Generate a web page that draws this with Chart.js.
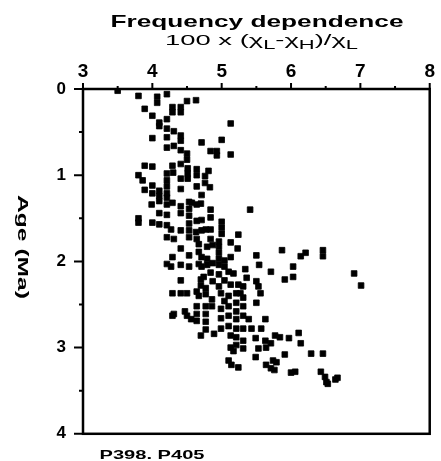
<!DOCTYPE html>
<html lang="en">

<head>
	<meta charset="UTF-8">
	<title>Frequency dependence</title>
	<script src="https://cdn.jsdelivr.net/npm/chart.js@4.4.1/dist/chart.umd.min.js"></script>
	<style>
		html, body { margin: 0; padding: 0; background: #fff; }
	</style>
</head>

<body>
	<div style="width: 441px; height: 461px;">
		<canvas id="chart" width="441" height="461"></canvas>
	</div>

	<script>
		// 100 x (chiL - chiH) / chiL
		const freqDep = [
			3.50, 3.80, 4.07, 4.07, 4.21, 4.50, 4.63, 3.89, 4.29, 4.29, 4.41, 4.41, 4.00, 4.21, 4.10, 4.10, 5.13, 4.21, 4.31,
			4.41, 4.21, 4.00, 4.41, 4.71, 5.00, 4.21, 4.31, 4.41, 4.84, 4.93, 4.93, 5.13, 4.50, 4.50, 3.89, 4.00, 4.29, 4.41, 4.51, 4.64, 4.81, 4.21, 4.30, 4.51, 4.64, 3.80,
			4.51, 4.41, 4.21, 3.86, 4.76, 4.00, 4.21, 4.64, 4.76, 4.83, 4.41, 3.89, 4.10, 4.00, 4.10, 4.21, 4.21, 4.71, 4.10, 3.99, 4.21, 4.29, 4.41, 4.53, 4.57, 4.64, 4.70, 4.84, 5.41, 4.53, 4.41, 4.10, 4.21, 4.53, 3.80, 3.80, 4.64, 4.71, 4.84,
			4.00, 4.10, 4.21, 4.27, 4.41, 4.53, 4.53, 5.00, 5.00, 5.00, 4.84, 4.63, 4.71, 4.77, 5.24, 4.53, 4.21, 4.31, 4.64, 4.67, 4.84, 4.96, 4.96, 5.13, 5.23, 4.41, 4.79, 4.87, 4.53, 4.67, 4.71, 4.29, 4.79, 4.96, 4.96, 5.13, 5.50, 5.87, 6.14, 6.21, 6.46, 6.46,
			4.21, 4.27, 4.41, 4.53, 4.67, 4.71, 4.79, 4.87, 4.96, 5.04, 5.04, 5.54, 5.10, 5.17, 5.34, 5.71, 6.03, 6.91, 7.01, 4.84, 4.96, 4.74, 4.41, 5.36, 5.91, 6.03, 4.70, 4.70, 4.87, 4.96, 5.04, 5.13, 5.24, 5.31, 5.50, 5.53, 4.29, 4.41, 4.50, 4.64, 4.67, 4.77, 4.77, 4.86, 4.99, 5.10, 5.21, 5.27, 5.31, 5.56, 5.04, 5.21, 5.50,
			4.47, 4.31, 4.50, 4.29, 4.64, 4.64, 4.64, 4.56, 4.77, 4.77, 4.77, 4.77, 4.86, 4.99, 4.99, 4.99, 5.10, 5.10, 5.10, 5.21, 5.21, 5.21, 5.21, 5.21, 5.31, 5.31, 5.31, 5.31, 5.31, 5.39, 5.43, 5.49, 5.53, 5.63, 5.57, 5.63, 5.64, 5.77, 5.84, 5.97, 6.11, 6.14, 5.71, 4.70, 4.89, 5.13,
			5.13, 5.17, 5.91, 6.29, 6.46, 5.10, 5.14, 5.24, 5.49, 5.64, 5.71, 5.74, 5.79, 5.76, 6.00, 6.06, 6.43, 6.49, 6.51, 6.53, 6.64, 6.67
		];

		// age in Ma, same order as freqDep
		const ageMa = [
			0.02, 0.08, 0.09, 0.16, 0.06, 0.14, 0.13, 0.23, 0.21, 0.27, 0.21, 0.27, 0.31, 0.35, 0.39, 0.43, 0.40, 0.46, 0.49,
			0.54, 0.56, 0.57, 0.60, 0.62, 0.59, 0.68, 0.66, 0.71, 0.72, 0.72, 0.77, 0.76, 0.75, 0.82, 0.89, 0.90, 0.89, 0.87, 0.92, 0.93, 0.95, 0.98, 0.97, 0.98, 1.00, 1.00,
			1.04, 1.04, 1.06, 1.06, 1.01, 1.12, 1.13, 1.13, 1.09, 1.14, 1.16, 1.17, 1.18, 1.21, 1.24, 1.21, 1.26, 1.23, 1.30, 1.34, 1.34, 1.32, 1.36, 1.31, 1.32, 1.34, 1.33, 1.40, 1.40, 1.39, 1.44, 1.44, 1.46, 1.47, 1.50, 1.55, 1.53, 1.52, 1.49,
			1.55, 1.57, 1.58, 1.63, 1.64, 1.56, 1.64, 1.54, 1.61, 1.68, 1.63, 1.66, 1.64, 1.63, 1.69, 1.72, 1.72, 1.74, 1.74, 1.80, 1.74, 1.77, 1.83, 1.78, 1.85, 1.85, 1.83, 1.81, 1.93, 1.89, 1.95, 1.95, 1.97, 1.90, 1.97, 1.95, 1.93, 1.87, 1.94, 1.90, 1.87, 1.94,
			2.03, 2.06, 2.04, 2.06, 2.03, 2.06, 2.04, 2.02, 2.04, 1.99, 2.06, 2.04, 2.12, 2.14, 2.09, 2.12, 2.06, 2.14, 2.28, 2.13, 2.15, 2.18, 2.22, 2.19, 2.21, 2.18, 2.21, 2.28, 2.23, 2.29, 2.22, 2.27, 2.27, 2.29, 2.23, 2.29, 2.37, 2.37, 2.37, 2.35, 2.40, 2.31, 2.38, 2.44, 2.37, 2.40, 2.37, 2.37, 2.42, 2.37, 2.46, 2.48, 2.48,
			2.58, 2.61, 2.63, 2.63, 2.52, 2.61, 2.69, 2.67, 2.52, 2.61, 2.70, 2.79, 2.52, 2.55, 2.66, 2.78, 2.52, 2.63, 2.75, 2.58, 2.67, 2.78, 2.88, 2.97, 2.52, 2.63, 2.78, 2.92, 3.01, 2.67, 2.78, 2.89, 3.01, 2.67, 2.78, 2.92, 3.00, 2.86, 2.88, 2.89, 2.83, 2.95, 2.95, 2.86, 2.84, 2.86,
			3.00, 3.04, 3.08, 3.07, 3.07, 3.15, 3.20, 3.23, 3.11, 3.20, 3.24, 3.15, 3.17, 3.26, 3.29, 3.28, 3.28, 3.34, 3.40, 3.42, 3.37, 3.35
		];

		const xTicks = [3, 4, 5, 6, 7, 8];
		const yTicks = [0, 1, 2, 3, 4];

		const labelFont = '"Liberation Sans", Arial, sans-serif';

		// draw text squeezed/stretched to a given width (the original lettering is wide)
		function wideText(ctx, text, cx, y, width) {
			const w = ctx.measureText(text).width;
			ctx.save();
			ctx.translate(cx, y);
			ctx.scale(width / w, 1);
			ctx.textAlign = 'center';
			ctx.fillText(text, 0, 0);
			ctx.restore();
		}

		// frame, tick marks, titles
		const decor = {
			id: 'decor',
			afterDraw(chart) {
				const ctx = chart.ctx;
				const a = chart.chartArea;
				const xs = chart.scales.x;
				const ys = chart.scales.y;
				ctx.save();
				ctx.strokeStyle = '#000';
				ctx.fillStyle = '#000';

				ctx.lineWidth = 2.5;
				ctx.strokeRect(a.left, a.top, a.right - a.left, a.bottom - a.top);

				ctx.lineWidth = 2;
				ctx.beginPath();
				for (let v = 3; v <= 8.001; v += 0.5) {
					const px = xs.getPixelForValue(v);
					const len = Number.isInteger(v) ? 6 : 3;
					ctx.moveTo(px, a.top);
					ctx.lineTo(px, a.top - len);
				}
				for (let v = 0; v <= 4.001; v += 0.5) {
					const py = ys.getPixelForValue(v);
					const len = Number.isInteger(v) ? 9 : 4;
					ctx.moveTo(a.left, py);
					ctx.lineTo(a.left - len, py);
				}
				ctx.stroke();

				ctx.textBaseline = 'alphabetic';
				ctx.font = 'bold 17px ' + labelFont;
				wideText(ctx, 'Frequency dependence', 257, 27, 293);

				// subtitle with subscripts
				const parts = [['100 x (χ', 0], ['L', 1], ['-χ', 0], ['H', 1], [')/χ', 0], ['L', 1]];
				const big = '15px ' + labelFont;
				const small = '12px ' + labelFont;
				let total = 0;
				parts.forEach(p => {
					ctx.font = p[1] ? small : big;
					total += ctx.measureText(p[0]).width;
				});
				const sx = 193 / total;
				ctx.save();
				ctx.translate(165, 45);
				ctx.scale(sx, 1);
				let cx = 0;
				parts.forEach(p => {
					ctx.font = p[1] ? small : big;
					ctx.fillText(p[0], cx, p[1] ? 4 : 0);
					cx += ctx.measureText(p[0]).width;
				});
				ctx.restore();

				// y title, reading downwards
				ctx.save();
				ctx.translate(18, 247);
				ctx.rotate(Math.PI / 2);
				ctx.font = 'bold 14px ' + labelFont;
				wideText(ctx, 'Age (Ma)', 0, 0, 104);
				ctx.restore();

				ctx.font = 'bold 12px ' + labelFont;
				ctx.textAlign = 'left';
				wideText(ctx, 'P398. P405', 152, 459, 105);
				ctx.restore();
			}
		};

		const points = freqDep.map((x, i) => ({ x: x, y: ageMa[i] }));

		new Chart(document.getElementById('chart'), {
			type: 'scatter',
			data: {
				datasets: [{
					data: points,
					pointStyle: 'rect',
					pointRadius: 4,
					pointBorderWidth: 0.8,
					backgroundColor: '#000',
					borderColor: '#000'
				}]
			},
			options: {
				responsive: false,
				animation: false,
				layout: { padding: { left: 43, top: 59, right: 9, bottom: 21 } },
				plugins: {
					legend: { display: false },
					tooltip: { enabled: false }
				},
				scales: {
					x: {
						type: 'linear',
						position: 'top',
						min: 3,
						max: 8,
						afterBuildTicks: s => { s.ticks = xTicks.map(v => ({ value: v })); },
						afterFit: s => { s.height = 30; },
						ticks: {
							color: '#000',
							padding: 6,
							maxRotation: 0,
							font: { family: labelFont, size: 19, weight: 'bold' }
						},
						grid: { display: false, drawTicks: false },
						border: { display: false }
					},
					y: {
						type: 'linear',
						reverse: true,
						min: 0,
						max: 4,
						afterBuildTicks: s => { s.ticks = yTicks.map(v => ({ value: v })); },
						afterFit: s => { s.width = 40; },
						ticks: {
							color: '#000',
							padding: 17,
							font: { family: labelFont, size: 17, weight: 'bold' }
						},
						grid: { display: false, drawTicks: false },
						border: { display: false }
					}
				}
			},
			plugins: [decor]
		});
	</script>

</body>

</html>
